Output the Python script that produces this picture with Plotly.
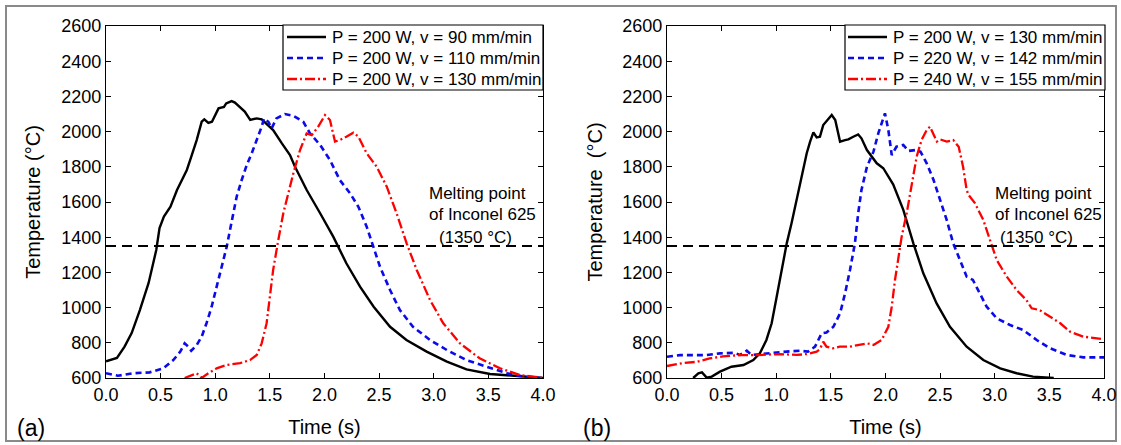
import plotly.graph_objects as go

# ---------------- data ----------------
# Panel (a): P = 200 W, different scan speeds
t_a90 = [0, 0.1, 0.17, 0.235, 0.31, 0.39, 0.46, 0.49, 0.53, 0.59, 0.65, 0.74, 0.78, 0.83, 0.876, 0.9, 0.937, 0.97,
         1.03, 1.08, 1.10, 1.15, 1.18, 1.24, 1.27, 1.32, 1.38, 1.425, 1.53, 1.61, 1.684, 1.73, 1.837, 1.96, 2.08,
         2.2, 2.325, 2.45, 2.6, 2.75, 2.935, 3.12, 3.30, 3.515, 3.76, 4.0]
T_a90 = [695, 714, 778, 855, 986, 1140, 1327, 1452, 1517, 1573, 1668, 1782, 1857, 1952, 2056, 2070, 2050, 2056,
         2132, 2140, 2160, 2173, 2165, 2132, 2114, 2066, 2075, 2070, 2009, 1933, 1867, 1800, 1668, 1536, 1403,
         1252, 1119, 1005, 891, 816, 750, 693, 649, 623, 611, 600]

t_a110 = [0, 0.11, 0.25, 0.40, 0.525, 0.616, 0.68, 0.72, 0.75, 0.78, 0.83, 0.876, 0.92, 0.967, 1.013, 1.059, 1.105,
          1.135, 1.165, 1.196, 1.242, 1.288, 1.334, 1.38, 1.425, 1.446, 1.486, 1.516, 1.56, 1.638, 1.715, 1.806,
          1.867, 1.96, 2.05, 2.14, 2.233, 2.31, 2.386, 2.447, 2.508, 2.6, 2.69, 2.81, 2.966, 3.12, 3.30, 3.485,
          3.67, 3.85, 4.0]
T_a110 = [627, 613, 627, 632, 655, 702, 750, 797, 780, 755, 787, 835, 911, 1005, 1119, 1232, 1346,
          1441, 1536, 1630, 1725, 1810, 1877, 1952, 2028, 2075, 2056, 2018, 2075, 2100, 2089, 2056,
          1990, 1924, 1839, 1725, 1650, 1573, 1460, 1346, 1232, 1100, 986, 891, 816, 759, 702, 664,
          627, 604, 600]

t_a130 = [0.72, 0.78, 0.83, 0.876, 0.937, 1.013, 1.105, 1.227, 1.318, 1.38, 1.425, 1.47, 1.50, 1.53, 1.577, 1.623,
          1.669, 1.715, 1.776, 1.837, 1.883, 1.943, 2.005, 2.05, 2.096, 2.14, 2.20, 2.264, 2.31, 2.386, 2.478,
          2.57, 2.66, 2.752, 2.844, 2.966, 3.087, 3.24, 3.42, 3.607, 3.79, 4.0]
T_a130 = [600, 615, 627, 600, 627, 655, 674, 684, 702, 731, 797, 911, 1062, 1214, 1384, 1536,
          1650, 1763, 1895, 1990, 1980, 2028, 2094, 2066, 1943, 1952, 1971, 1994, 1971, 1877, 1800,
          1687, 1536, 1365, 1214, 1043, 911, 797, 712, 655, 617, 600]

# Panel (b): scaled power / speed
t_b200 = [0.24, 0.287, 0.32, 0.363, 0.41, 0.485, 0.59, 0.70, 0.79, 0.85, 0.91, 0.958, 1.004, 1.05, 1.096, 1.14,
          1.187, 1.233, 1.279, 1.31, 1.34, 1.37, 1.40, 1.43, 1.477, 1.508, 1.54, 1.584, 1.63, 1.66, 1.705, 1.75,
          1.78, 1.83, 1.92, 1.98, 2.07, 2.163, 2.255, 2.346, 2.468, 2.59, 2.743, 2.895, 3.05, 3.2, 3.35, 3.54]
T_b200 = [600, 627, 632, 602, 608, 636, 664, 674, 702, 740, 816, 911, 1062, 1214, 1365, 1479,
          1611, 1744, 1877, 1943, 1996, 1967, 1971, 2037, 2070, 2094, 2066, 1943, 1952, 1956, 1971, 1984,
          1962, 1895, 1820, 1792, 1700, 1555, 1365, 1195, 1024, 891, 778, 702, 655, 627, 608, 600]

t_b220 = [0, 0.12, 0.24, 0.36, 0.485, 0.61, 0.668, 0.73, 0.775, 0.85, 0.973, 1.096, 1.217, 1.29, 1.355, 1.416,
          1.46, 1.523, 1.584, 1.63, 1.675, 1.72, 1.75, 1.78, 1.83, 1.89, 1.934, 1.995, 2.026, 2.057, 2.10, 2.163,
          2.21, 2.27, 2.32, 2.377, 2.44, 2.50, 2.56, 2.62, 2.68, 2.743, 2.80, 2.85, 2.926, 3.018, 3.14, 3.26,
          3.384, 3.506, 3.66, 3.81, 4.0]
T_b220 = [721, 730, 730, 730, 740, 743, 731, 755, 731, 736, 740, 750, 755, 750, 778, 854,
          858, 891, 967, 1081, 1214, 1365, 1536, 1668, 1800, 1886, 1990, 2104, 2009, 1867, 1914, 1924,
          1890, 1895, 1886, 1820, 1725, 1611, 1498, 1365, 1270, 1176, 1157, 1100, 1005, 939, 901, 873,
          816, 769, 731, 717, 717]

t_b240 = [0, 0.14, 0.27, 0.39, 0.51, 0.67, 0.82, 1.03, 1.187, 1.28, 1.37, 1.40, 1.43, 1.46, 1.52, 1.58, 1.675,
          1.77, 1.83, 1.89, 1.965, 2.026, 2.057, 2.087, 2.117, 2.148, 2.194, 2.24, 2.285, 2.33, 2.377, 2.407,
          2.44, 2.47, 2.50, 2.56, 2.62, 2.67, 2.71, 2.743, 2.76, 2.82, 2.895, 2.957, 3.018, 3.11, 3.20, 3.29,
          3.338, 3.41, 3.506, 3.60, 3.69, 3.81, 4.0]
T_b240 = [668, 684, 692, 711, 723, 730, 730, 736, 731, 736, 750, 764, 806, 778, 769, 778, 778,
          788, 797, 788, 816, 891, 1005, 1157, 1270, 1403, 1536, 1687, 1857, 1952, 2009, 2028,
          1980, 1943, 1956, 1943, 1952, 1914, 1800, 1668, 1640, 1592, 1498, 1384, 1270, 1176, 1100, 1043,
          996, 986, 948, 911, 863, 835, 820]

names_a = ["P = 200 W, v = 90 mm/min", "P = 200 W, v = 110 mm/min", "P = 200 W, v = 130 mm/min"]
names_b = ["P = 200 W, v = 130 mm/min", "P = 220 W, v = 142 mm/min", "P = 240 W, v = 155 mm/min"]

melting_T = 1350
t_range = [0, 4]
T_range = [600, 2600]
x_ticks = [0, 0.5, 1.0, 1.5, 2.0, 2.5, 3.0, 3.5, 4.0]
y_ticks = [600, 800, 1000, 1200, 1400, 1600, 1800, 2000, 2200, 2400, 2600]

# ---------------- figure ----------------
W, H = 1121, 445
FONT = "Liberation Sans, Arial, sans-serif"


def px_x(p):
    return p / W


def px_y(p):
    return 1 - p / H


styles = [
    dict(color="black", width=2.4, dash="solid"),
    dict(color="#0a0aeb", width=2.6, dash="6px,4px"),
    dict(color="#ff0000", width=2.3, dash="10px,3px,2px,3px"),
]

fig = go.Figure()

series_a = [(t_a90, T_a90), (t_a110, T_a110), (t_a130, T_a130)]
series_b = [(t_b200, T_b200), (t_b220, T_b220), (t_b240, T_b240)]

for (t, T), name, st in zip(series_a, names_a, styles):
    fig.add_trace(go.Scatter(x=t, y=T, mode="lines", name=name, line=st,
                             xaxis="x", yaxis="y", showlegend=False))
for (t, T), name, st in zip(series_b, names_b, styles):
    fig.add_trace(go.Scatter(x=t, y=T, mode="lines", name=name, line=st,
                             xaxis="x2", yaxis="y2", showlegend=False))

# melting point reference lines
for xa_, ya_ in (("x", "y"), ("x2", "y2")):
    fig.add_trace(go.Scatter(x=t_range, y=[melting_T, melting_T], mode="lines",
                             line=dict(color="black", width=1.8, dash="10px,6px"),
                             xaxis=xa_, yaxis=ya_, showlegend=False, hoverinfo="skip"))

axis_common = dict(
    showline=True, linecolor="black", linewidth=1.3, mirror="ticks",
    ticks="inside", ticklen=5, tickwidth=1.2, tickcolor="black",
    showgrid=False, zeroline=False, automargin=False,
    tickfont=dict(family=FONT, size=18, color="black"),
)

dom_a = [px_x(106), px_x(543)]
dom_b = [px_x(667), px_x(1104)]
dom_y = [px_y(378), px_y(26)]

TITLE_FONT = dict(family=FONT, size=20, color="black")
xa = dict(axis_common, range=t_range, tickvals=x_ticks, tickformat=".1f",
          title=dict(text="Time (s)", font=TITLE_FONT, standoff=16))
ya = dict(axis_common, range=T_range, tickvals=y_ticks,
          title=dict(text="Temperature (°C)", font=TITLE_FONT, standoff=15))

fig.update_layout(
    width=W, height=H,
    margin=dict(l=0, r=0, t=0, b=0, autoexpand=False),
    paper_bgcolor="white", plot_bgcolor="white",
    font=dict(family=FONT, color="black"),
    xaxis=dict(xa, domain=dom_a, anchor="y"),
    yaxis=dict(ya, domain=dom_y, anchor="x"),
    xaxis2=dict(xa, domain=dom_b, anchor="y2"),
    yaxis2=dict(ya, domain=dom_y, anchor="x2",
                title=dict(text="Temperature  (°C)", font=TITLE_FONT, standoff=14)),
    showlegend=False,
)

# ---- legends (boxed, one per panel) ----
LEG_FONT = dict(family=FONT, size=17, color="black")
rows = [37, 58, 79]
shapes = []
annotations = []
for (bx0, bx1, lx0, lx1, tx), names in (((283, 543, 287, 326, 330), names_a),
                                        ((845, 1105, 848, 887, 891), names_b)):
    shapes.append(dict(type="rect", xref="paper", yref="paper",
                       x0=px_x(bx0), x1=px_x(bx1), y0=px_y(90), y1=px_y(25),
                       line=dict(color="black", width=1.2), fillcolor="white", layer="above"))
    for r, name, st in zip(rows, names, styles):
        shapes.append(dict(type="line", xref="paper", yref="paper",
                           x0=px_x(lx0), x1=px_x(lx1), y0=px_y(r), y1=px_y(r),
                           line=dict(color=st["color"], width=st["width"], dash=st["dash"]),
                           layer="above"))
        annotations.append(dict(x=px_x(tx), y=px_y(r), text=name, xanchor="left", yanchor="middle",
                                font=LEG_FONT))

ann_font = dict(family=FONT, size=17, color="black")
for x1, x3 in ((427, 437), (993, 998)):
    annotations += [
        dict(x=px_x(x1), y=px_y(193), text="Melting point", xanchor="left", yanchor="middle"),
        dict(x=px_x(x1), y=px_y(214), text="of Inconel 625", xanchor="left", yanchor="middle"),
        dict(x=px_x(x3), y=px_y(237), text="(1350 °C)", xanchor="left", yanchor="middle"),
    ]
annotations += [
    dict(x=px_x(31), y=px_y(428), text="(a)", xanchor="center", yanchor="middle",
         font=dict(family=FONT, size=23, color="black")),
    dict(x=px_x(597), y=px_y(428), text="(b)", xanchor="center", yanchor="middle",
         font=dict(family=FONT, size=23, color="black")),
]
for a in annotations:
    a.setdefault("font", ann_font)
    a.update(xref="paper", yref="paper", showarrow=False)

# outer frame of the figure
shapes.append(dict(type="rect", xref="paper", yref="paper",
                   x0=px_x(6), x1=px_x(1116), y0=px_y(441), y1=px_y(6),
                   line=dict(color="#8a8a8a", width=2), fillcolor="rgba(0,0,0,0)", layer="below"))

fig.update_layout(annotations=annotations, shapes=shapes)

fig.write_html("out.html")
